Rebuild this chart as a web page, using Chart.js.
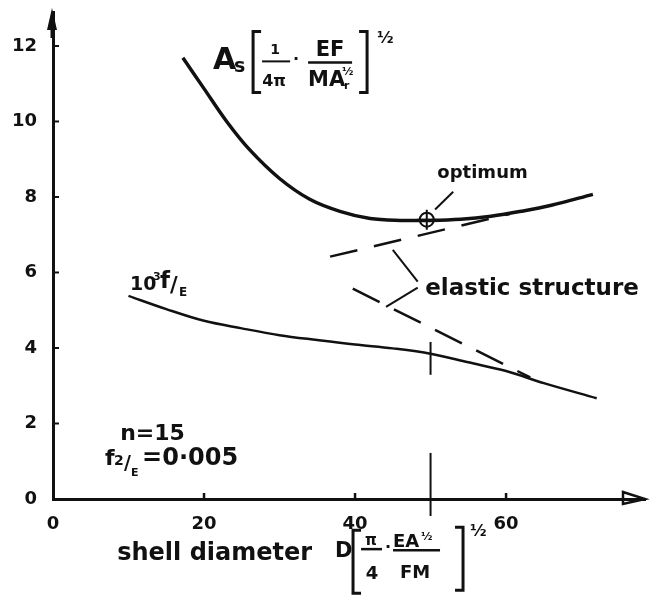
<!DOCTYPE html>
<html>
<head>
<meta charset="utf-8">
<script src="https://cdn.jsdelivr.net/npm/chart.js@4.4.1/dist/chart.umd.min.js"></script>
<style>
  body { margin: 0; background: #fff; }
  #wrap { width: 657px; height: 597px; }
</style>
</head>
<body>
<div id="wrap"><canvas id="chart"></canvas></div>
<script>
// values
const xTicks = [0, 20, 40, 60];
const yTicks = [0, 2, 4, 6, 8, 10, 12];

const areaX = [17.2, 20, 23, 26, 30, 34, 38, 42, 46, 50, 54, 58, 62, 66, 71.5];
const areaY = [11.69, 10.87, 10.0, 9.26, 8.49, 7.94, 7.62, 7.43, 7.38, 7.38, 7.41, 7.49, 7.62, 7.78, 8.07];

const stressX = [10, 15, 20, 25, 30, 35, 40, 45, 50, 55, 60, 65, 72];
const stressY = [5.38, 5.03, 4.72, 4.52, 4.34, 4.21, 4.09, 3.99, 3.85, 3.62, 3.39, 3.07, 2.67];

const elasticAreaX = [36.7, 60.5];
const elasticAreaY = [6.42, 7.55];
const elasticStressX = [39.7, 63.2];
const elasticStressY = [5.57, 3.22];

const optimum = [49.5, 7.40];

// pointer lines and the D=50 marker
const leaders = [
  [[53.0, 8.14], [50.6, 7.67]],
  [[45.0, 6.60], [48.3, 5.76]],
  [[48.3, 5.60], [44.1, 5.09]],
  [[50, 3.29], [50, 4.16]],
  [[50, -0.45], [50, 1.22]]
];

function pts(xs, ys) {
  return xs.map((x, i) => ({ x: x, y: ys[i] }));
}

const ink = '#111';
const FONT = '"DejaVu Sans", sans-serif';

const datasets = [
  { data: pts(areaX, areaY), borderWidth: 3.5, tension: 0.35 },
  { data: pts(stressX, stressY), borderWidth: 2.5, tension: 0.35 },
  { data: pts(elasticAreaX, elasticAreaY), borderWidth: 2.5, borderDash: [28, 17] },
  { data: pts(elasticStressX, elasticStressY), borderWidth: 2.5, borderDash: [30, 16] }
];
leaders.forEach(l => {
  datasets.push({ data: l.map(p => ({ x: p[0], y: p[1] })), borderWidth: 2, clip: false });
});
datasets.forEach(d => {
  d.showLine = true;
  d.borderColor = ink;
  d.pointRadius = 0;
  d.fill = false;
});
datasets.push({
  data: [{ x: optimum[0], y: optimum[1] }], showLine: false,
  pointStyle: 'circle', pointRadius: 7, borderColor: ink, borderWidth: 2, backgroundColor: 'rgba(0,0,0,0)'
});
datasets.push({
  data: [{ x: optimum[0], y: optimum[1] }], showLine: false, clip: false,
  pointStyle: 'cross', pointRadius: 10, borderColor: ink, borderWidth: 2
});

function txt(ctx, s, x, y, size, align) {
  ctx.font = 'bold ' + size + 'px ' + FONT;
  ctx.textAlign = align || 'left';
  ctx.fillText(s, x, y);
}
function seg(ctx, x1, y1, x2, y2, w) {
  ctx.lineWidth = w || 2;
  ctx.beginPath();
  ctx.moveTo(x1, y1);
  ctx.lineTo(x2, y2);
  ctx.stroke();
}
function bracket(ctx, x, y1, y2, dir) {
  ctx.lineWidth = 3;
  ctx.beginPath();
  ctx.moveTo(x + dir * 8, y1);
  ctx.lineTo(x, y1);
  ctx.lineTo(x, y2);
  ctx.lineTo(x + dir * 8, y2);
  ctx.stroke();
}

const sketch = {
  id: 'sketch',
  afterDraw(chart) {
    const ctx = chart.ctx;
    const xs = chart.scales.x, ys = chart.scales.y;
    const px = (x, y) => [xs.getPixelForValue(x), ys.getPixelForValue(y)];
    const [x0, y0] = px(0, 0);
    ctx.save();
    ctx.fillStyle = ink;
    ctx.strokeStyle = ink;
    ctx.textBaseline = 'alphabetic';

    // inward tick marks
    yTicks.forEach(v => { if (v > 0) { const p = px(0, v); seg(ctx, x0, p[1], x0 + 6, p[1], 2); } });
    xTicks.forEach(v => { if (v > 0) { const p = px(v, 0); seg(ctx, p[0], y0, p[0], y0 - 6, 2.5); } });

    // arrow heads
    const top = ys.getPixelForValue(ys.max) - 4;
    ctx.beginPath();
    ctx.moveTo(x0 - 1, top);
    ctx.lineTo(x0 - 6, top + 22);
    ctx.lineTo(x0 + 4, top + 22);
    ctx.closePath();
    ctx.fill();
    seg(ctx, x0 - 1, top + 20, x0 - 1, top + 30, 3);
    const right = xs.getPixelForValue(xs.max);
    ctx.lineWidth = 2.5;
    ctx.beginPath();
    ctx.moveTo(right - 22, y0 - 7);
    ctx.lineTo(right, y0);
    ctx.lineTo(right - 22, y0 + 5);
    ctx.closePath();
    ctx.stroke();

    // curve labels
    let [ax, ay] = px(21.2, 11.38);
    txt(ctx, 'A', ax, ay, 30);
    txt(ctx, 's', ax + 21, ay + 3, 19);
    bracket(ctx, ax + 40, ay - 38, ay + 23, 1);
    txt(ctx, '1', ax + 62, ay - 15, 14, 'center');
    seg(ctx, ax + 49, ay - 8, ax + 77, ay - 8, 2);
    txt(ctx, '4π', ax + 61, ay + 17, 16, 'center');
    txt(ctx, '.', ax + 80, ay - 9, 16);
    txt(ctx, 'EF', ax + 117, ay - 13, 21, 'center');
    seg(ctx, ax + 95, ay - 7, ax + 139, ay - 7, 2.5);
    txt(ctx, 'MA', ax + 95, ay + 17, 21);
    txt(ctx, '½', ax + 129, ay + 6, 11);
    txt(ctx, 'r', ax + 131, ay + 20, 11);
    bracket(ctx, ax + 154, ay - 38, ay + 23, -1);
    txt(ctx, '½', ax + 164, ay - 26, 16);

    [ax, ay] = px(10.2, 5.54);
    txt(ctx, '10', ax, ay, 19);
    txt(ctx, '3', ax + 23, ay - 10, 11);
    txt(ctx, 'f', ax + 30, ay - 2, 23);
    txt(ctx, '/', ax + 40, ay + 2, 21);
    txt(ctx, 'E', ax + 49, ay + 6, 12);

    [ax, ay] = px(50.9, 8.51);
    txt(ctx, 'optimum', ax, ay, 18);

    [ax, ay] = px(49.3, 5.41);
    txt(ctx, 'elastic structure', ax, ay, 23);

    [ax, ay] = px(8.9, 1.56);
    txt(ctx, 'n=15', ax, ay, 22);
    [ax, ay] = px(6.9, 0.9);
    txt(ctx, 'f', ax, ay, 22);
    txt(ctx, '2', ax + 9, ay, 14);
    txt(ctx, '/', ax + 19, ay + 4, 19);
    txt(ctx, 'E', ax + 26, ay + 11, 11);
    txt(ctx, '=0·005', ax + 37, ay, 24);

    // axis title
    [ax, ay] = px(8.5, -1.62);
    txt(ctx, 'shell diameter', ax, ay, 24);
    [ax, ay] = px(37.35, -1.54);
    txt(ctx, 'D', ax, ay, 21);
    bracket(ctx, ax + 18, ay - 27, ay + 36, 1);
    txt(ctx, 'π', ax + 36, ay - 12, 15, 'center');
    seg(ctx, ax + 26, ay - 8, ax + 47, ay - 8, 2.5);
    txt(ctx, '4', ax + 37, ay + 22, 18, 'center');
    txt(ctx, '.', ax + 50, ay - 9, 16);
    txt(ctx, 'EA', ax + 58, ay - 10, 18);
    txt(ctx, '½', ax + 86, ay - 17, 11);
    seg(ctx, ax + 58, ay - 7, ax + 105, ay - 7, 2.5);
    txt(ctx, 'FM', ax + 80, ay + 21, 18, 'center');
    bracket(ctx, ax + 128, ay - 30, ay + 33, -1);
    txt(ctx, '½', ax + 135, ay - 21, 16);

    ctx.restore();
  }
};

new Chart(document.getElementById('chart'), {
  type: 'scatter',
  data: { datasets: datasets },
  options: {
    responsive: true,
    maintainAspectRatio: false,
    animation: false,
    layout: { padding: { top: 0, right: 12, left: 0, bottom: 0 } },
    plugins: { legend: { display: false }, tooltip: { enabled: false } },
    scales: {
      x: {
        type: 'linear', min: 0, max: 78.4,
        afterBuildTicks: s => { s.ticks = xTicks.map(v => ({ value: v })); },
        afterFit: s => { s.height = 98; s.paddingLeft = 0; s.paddingRight = 0; },
        grid: { display: false },
        border: { display: true, color: ink, width: 3 },
        ticks: { color: ink, padding: 7, font: { family: FONT, size: 18, weight: 'bold' } }
      },
      y: {
        type: 'linear', min: 0, max: 12.9,
        afterBuildTicks: s => { s.ticks = yTicks.map(v => ({ value: v })); },
        afterFit: s => { s.width = 53; s.paddingTop = 0; s.paddingBottom = 0; },
        grid: { display: false },
        border: { display: true, color: ink, width: 3 },
        ticks: { color: ink, padding: 8, font: { family: FONT, size: 18, weight: 'bold' } }
      }
    }
  },
  plugins: [sketch]
});
</script>
</body>
</html>
